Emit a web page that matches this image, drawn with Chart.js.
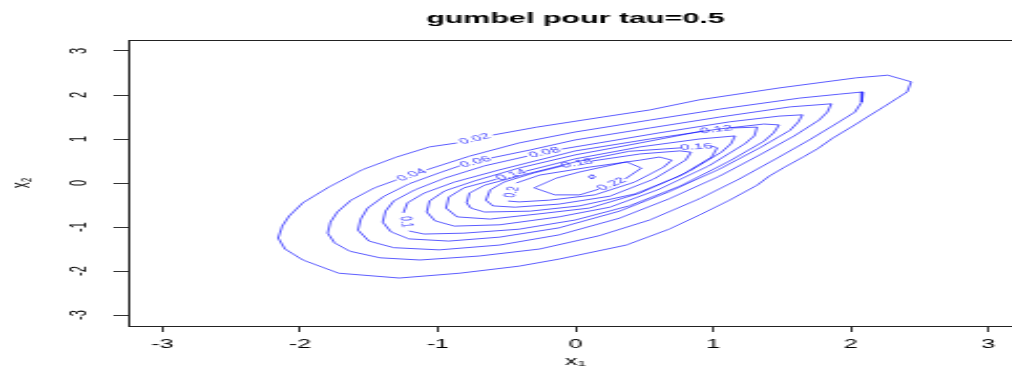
<!DOCTYPE html>
<html>
<head>
<meta charset="utf-8">
<script src="https://cdn.jsdelivr.net/npm/chart.js@4.4.1/dist/chart.umd.min.js"></script>
<style>
html, body { margin: 0; padding: 0; overflow: hidden; background: #fff; width: 1012px; height: 372px; }
/* the reference picture is stretched sideways, so the canvas is too */
#wrap { width: 500px; height: 372px; transform: scaleX(2.1); transform-origin: 0 0; }
</style>
</head>
<body>
<div id="wrap"><canvas id="chart" width="500" height="372"></canvas></div>
<script>
// tick labels
const xTicks = [-3, -2, -1, 0, 1, 2, 3];
const yTicks = [-3, -2, -1, 0, 1, 2, 3];

// contour levels, and the [x1, x2] points of each contour
// (null marks the gap where R wrote the level label)
const levels = [0.02, 0.04, 0.06, 0.08, 0.1, 0.12, 0.14, 0.16, 0.18, 0.2, 0.22, 0.24];

const c002 = [[-2.16,-1.25],[-2.13,-0.98],[-2.08,-0.75],[-1.98,-0.45],[-1.79,-0.09],[-1.55,0.30],[-1.30,0.59],[-1.06,0.82],[-0.86,0.91],null,
  [-0.60,1.09],[-0.28,1.27],[0.20,1.50],[0.54,1.66],[0.90,1.89],[1.48,2.16],[2.04,2.39],[2.27,2.45],[2.44,2.30],[2.41,2.07],[2.35,1.95],
  [2.26,1.77],[2.11,1.48],[2.03,1.32],[1.87,1.02],[1.76,0.78],[1.66,0.60],[1.52,0.36],[1.41,0.16],[1.32,-0.05],[1.12,-0.39],[0.90,-0.73],
  [0.68,-1.05],[0.37,-1.41],[-0.12,-1.73],[-0.41,-1.89],[-0.84,-2.05],[-1.28,-2.16],[-1.72,-2.05],[-1.98,-1.75],[-2.11,-1.50]];

const c004 = [[-1.80,-1.14],[-1.78,-0.89],[-1.73,-0.66],[-1.63,-0.39],[-1.46,-0.11],[-1.30,0.07],null,[-1.08,0.30],[-0.77,0.61],
  [-0.41,0.91],[0,1.16],[0.54,1.43],[1.05,1.68],[1.63,1.93],[1.92,2.02],[2.09,2.07],[2.08,1.84],[2.03,1.61],[1.88,1.32],[1.70,0.98],
  [1.48,0.59],[1.19,0.09],[0.90,-0.36],[0.54,-0.84],[0.17,-1.20],[-0.26,-1.50],[-0.70,-1.66],[-1.13,-1.75],[-1.42,-1.70],[-1.64,-1.55],[-1.75,-1.36]];

const c006 = [[-1.58,-1.07],[-1.56,-0.82],[-1.51,-0.57],[-1.39,-0.30],[-1.21,-0.02],[-0.99,0.23],[-0.84,0.39],null,[-0.61,0.57],
  [-0.33,0.75],[0,0.98],[0.54,1.25],[1.05,1.50],[1.56,1.73],[1.86,1.80],[1.83,1.61],[1.77,1.43],[1.59,1.07],[1.34,0.64],[1.05,0.16],
  [0.68,-0.36],[0.32,-0.80],[-0.12,-1.18],[-0.55,-1.41],[-0.99,-1.52],[-1.32,-1.47],[-1.50,-1.32]];

const c008 = [[-1.40,-0.89],[-1.38,-0.64],[-1.32,-0.41],[-1.17,-0.16],[-0.95,0.11],[-0.66,0.39],[-0.35,0.61],null,[-0.10,0.77],
  [0.17,0.91],[0.61,1.14],[1.12,1.39],[1.48,1.52],[1.65,1.55],[1.62,1.39],[1.56,1.20],[1.34,0.80],[1.05,0.32],[0.68,-0.20],
  [0.32,-0.64],[-0.12,-1.02],[-0.55,-1.23],[-0.92,-1.32],[-1.21,-1.27],[-1.34,-1.11]];

const c010 = [[-1.25,-0.68],[-1.22,-0.45],[-1.10,-0.23],[-0.88,0.02],[-0.55,0.30],[0,0.73],[0.54,1.00],[1.05,1.23],[1.37,1.34],
  [1.48,1.32],[1.44,1.14],[1.37,0.95],[1.12,0.50],[0.76,-0.07],[0.39,-0.52],[0,-0.84],[-0.41,-1.05],[-0.81,-1.14],[-1.10,-1.16],
  [-1.21,-1.09],null];

const c012 = [[-1.08,-0.66],[-1.06,-0.41],[-0.95,-0.18],[-0.73,0.05],[-0.41,0.34],[0,0.64],[0.47,0.91],[0.92,1.18],null,[1.13,1.25],
  [1.32,1.27],[1.30,1.07],[1.23,0.89],[0.97,0.39],[0.61,-0.14],[0.25,-0.55],[-0.12,-0.77],[-0.55,-0.95],[-0.88,-0.98],[-1.02,-0.86]];

const c014 = [[-0.94,-0.57],[-0.92,-0.32],[-0.81,-0.11],[-0.57,0.09],null,[-0.36,0.27],[0,0.55],[0.47,0.82],[0.90,1.00],[1.16,1.07],
  [1.13,0.89],[1.06,0.70],[0.83,0.27],[0.47,-0.23],[0.10,-0.57],[-0.26,-0.70],[-0.62,-0.82],[-0.86,-0.77]];

const c016 = [[-0.79,-0.45],[-0.77,-0.23],[-0.66,-0.05],[-0.41,0.16],[0,0.48],[0.39,0.72],[0.77,0.80],null,[0.99,0.84],[1.03,0.80],
  [0.99,0.59],[0.76,0.16],[0.43,-0.25],[0.03,-0.52],[-0.33,-0.64],[-0.66,-0.66],[-0.76,-0.57]];

const c018 = [[-0.65,-0.39],[-0.62,-0.16],[-0.52,0.02],[-0.30,0.23],[-0.09,0.39],null,[0.12,0.50],[0.47,0.66],[0.76,0.73],[0.84,0.70],
  [0.80,0.52],[0.57,0.09],[0.25,-0.30],[-0.12,-0.48],[-0.44,-0.55],[-0.60,-0.52]];

const c020 = [[-0.43,0],[-0.26,0.18],[0.10,0.36],[0.47,0.52],[0.61,0.59],[0.70,0.52],[0.64,0.36],[0.43,0.02],[0.14,-0.27],
  [-0.19,-0.39],[-0.41,-0.43],[-0.49,-0.41],null];

const c022 = [[-0.30,-0.11],[-0.14,0.11],[0.03,0.25],[0.37,0.48],[0.48,0.34],[0.36,0.09],null,[0.17,-0.14],[0.03,-0.27],[-0.15,-0.27]];

const c024 = [[0.098,0.14],[0.12,0.19],[0.142,0.14],[0.12,0.09]];

const contours = [c002, c004, c006, c008, c010, c012, c014, c016, c018, c020, c022, c024];

const lineColor = 'rgba(0,0,255,0.72)';
const labelColor = 'rgba(40,40,255,0.85)';
const fontFamily = "'Liberation Sans', Arial, 'DejaVu Sans', sans-serif";
Chart.defaults.font.family = fontFamily;
Chart.defaults.color = '#000';

// open the closed contour at its label gap
function contourPath(pts) {
  var k = pts.indexOf(null);
  var ordered = k < 0 ? pts.concat([pts[0]]) : pts.slice(k + 1).concat(pts.slice(0, k));
  return ordered.map(function(p) { return {x: p[0], y: p[1]}; });
}

function gapEnds(pts) {
  var k = pts.indexOf(null);
  if (k < 0) return null;
  var n = pts.length;
  return [pts[(k - 1 + n) % n], pts[(k + 1) % n]];
}

const datasets = contours.map(function(pts, i) {
  return {
    label: String(levels[i]),
    data: contourPath(pts),
    showLine: true,
    borderColor: lineColor,
    borderWidth: 0.9,
    pointRadius: 0,
    tension: 0,
    fill: false
  };
});

const contourLabels = {
  id: 'contourLabels',
  afterDatasetsDraw: function(chart) {
    var ctx = chart.ctx;
    var xs = chart.scales.x, ys = chart.scales.y;
    ctx.save();
    ctx.font = '8px ' + fontFamily;
    ctx.fillStyle = labelColor;
    ctx.textAlign = 'center';
    ctx.textBaseline = 'middle';
    contours.forEach(function(pts, i) {
      var ends = gapEnds(pts);
      if (!ends) return;
      var ax = xs.getPixelForValue(ends[0][0]), ay = ys.getPixelForValue(ends[0][1]);
      var bx = xs.getPixelForValue(ends[1][0]), by = ys.getPixelForValue(ends[1][1]);
      var angle = Math.atan2(by - ay, bx - ax);
      if (angle > Math.PI / 2) angle -= Math.PI;
      if (angle < -Math.PI / 2) angle += Math.PI;
      ctx.save();
      ctx.translate((ax + bx) / 2, (ay + by) / 2);
      ctx.rotate(angle);
      ctx.fillText(String(levels[i]), 0, 0);
      ctx.restore();
    });
    ctx.restore();
  }
};

const plotBox = {
  id: 'plotBox',
  afterDraw: function(chart) {
    var a = chart.chartArea, ctx = chart.ctx;
    ctx.save();
    ctx.strokeStyle = '#222';
    ctx.lineWidth = 1;
    ctx.strokeRect(Math.round(a.left) + 0.5, Math.round(a.top) + 0.5, Math.round(a.right - a.left), Math.round(a.bottom - a.top));
    ctx.restore();
  }
};

var ctx = document.getElementById('chart').getContext('2d');
var chart = new Chart(ctx, {
  type: 'scatter',
  data: { datasets: datasets },
  options: {
    responsive: false,
    animation: false,
    devicePixelRatio: 1,
    layout: { padding: { left: 0, top: 0, right: 13, bottom: 0 } },
    plugins: {
      legend: { display: false },
      tooltip: { enabled: false },
      title: {
        display: true,
        fullSize: false,
        text: 'gumbel pour tau=0.5',
        color: '#000',
        font: { size: 14.5, weight: 'bold' },
        padding: { top: 10, bottom: 12.6 }
      }
    },
    scales: {
      x: {
        type: 'linear',
        min: -3.25,
        max: 3.25,
        afterBuildTicks: function(scale) { scale.ticks = xTicks.map(function(v) { return {value: v}; }); },
        afterFit: function(scale) { scale.height = 46; },
        border: { display: false },
        grid: { drawOnChartArea: false, drawTicks: true, tickLength: 6, color: '#333' },
        ticks: { autoSkip: false, maxRotation: 0, padding: 5.5, color: '#000', font: { size: 12 } },
        title: { display: true, text: 'x₁', color: '#000', font: { size: 12 }, padding: { top: 0, bottom: 2.8 } }
      },
      y: {
        type: 'linear',
        min: -3.25,
        max: 3.25,
        afterBuildTicks: function(scale) { scale.ticks = yTicks.map(function(v) { return {value: v}; }); },
        afterFit: function(scale) { scale.width = 61; },
        border: { display: false },
        grid: { drawOnChartArea: false, drawTicks: true, tickLength: 7, color: '#333' },
        ticks: { autoSkip: false, minRotation: 90, maxRotation: 90, crossAlign: 'center', padding: 11, color: '#000', font: { size: 11 } },
        title: { display: true, text: 'x₂', color: '#000', font: { size: 12 }, padding: { top: 3.3, bottom: 0 } }
      }
    }
  },
  plugins: [contourLabels, plotBox]
});
</script>
</body>
</html>
